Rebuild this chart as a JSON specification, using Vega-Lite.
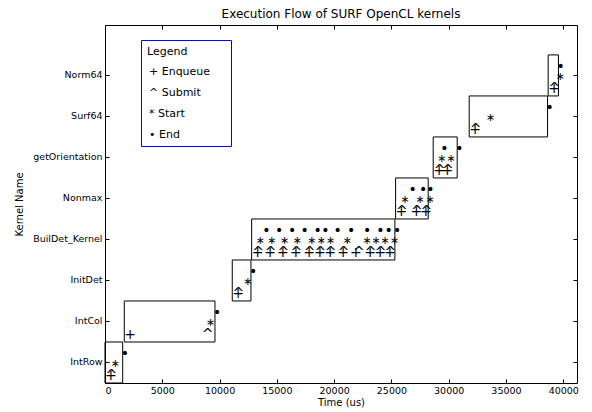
{
  "$schema": "https://vega.github.io/schema/vega-lite/v6.json",
  "width": 472,
  "height": 358,
  "autosize": "none",
  "padding": {"left": 105, "top": 25, "right": 15, "bottom": 29},
  "title": {"text": "Execution Flow of SURF OpenCL kernels", "fontSize": 12, "fontWeight": "normal", "color": "black", "offset": 4, "anchor": "middle"},
  "config": {
    "font": "DejaVu Sans",
    "view": {"stroke": "black", "strokeWidth": 1},
    "range": {"category": ["black", "black", "black", "black"]},
    "axis": {"domain": false, "grid": false, "tickColor": "black", "tickSize": -4, "labelColor": "black", "labelFontSize": 9.5, "titleFontSize": 10, "titleFontWeight": "normal", "titleColor": "black"}
  },
  "data": {"values": [
    {"kernel": "IntRow", "enqueue": 0, "submit": 50, "start": 500, "end": 1545},
    {"kernel": "IntCol", "enqueue": 1684, "submit": 8447, "start": 8813, "end": 9599},
    {"kernel": "InitDet", "enqueue": 11108, "submit": 11140, "start": 12077, "end": 12740},
    {"kernel": "BuilDet_Kernel", "enqueue": 12801, "submit": 12850, "start": 13150, "end": 13901},
    {"kernel": "BuilDet_Kernel", "enqueue": 13901, "submit": 13950, "start": 14171, "end": 15009},
    {"kernel": "BuilDet_Kernel", "enqueue": 15009, "submit": 15050, "start": 15271, "end": 16143},
    {"kernel": "BuilDet_Kernel", "enqueue": 16143, "submit": 16190, "start": 16379, "end": 17243},
    {"kernel": "BuilDet_Kernel", "enqueue": 17304, "submit": 17350, "start": 17662, "end": 18377},
    {"kernel": "BuilDet_Kernel", "enqueue": 18237, "submit": 18280, "start": 18473, "end": 19049},
    {"kernel": "BuilDet_Kernel", "enqueue": 19136, "submit": 19180, "start": 19284, "end": 20122},
    {"kernel": "BuilDet_Kernel", "enqueue": 20271, "submit": 20320, "start": 20742, "end": 21291},
    {"kernel": "BuilDet_Kernel", "enqueue": 21379, "submit": 21640, "start": 22487, "end": 22688},
    {"kernel": "BuilDet_Kernel", "enqueue": 22627, "submit": 22670, "start": 23273, "end": 23848},
    {"kernel": "BuilDet_Kernel", "enqueue": 23499, "submit": 23540, "start": 24057, "end": 24572},
    {"kernel": "BuilDet_Kernel", "enqueue": 24346, "submit": 24390, "start": 24869, "end": 25305},
    {"kernel": "Nonmax", "enqueue": 25366, "submit": 25410, "start": 25803, "end": 26667},
    {"kernel": "Nonmax", "enqueue": 26676, "submit": 26720, "start": 27112, "end": 27574},
    {"kernel": "Nonmax", "enqueue": 27487, "submit": 27530, "start": 27985, "end": 28212},
    {"kernel": "getOrientation", "enqueue": 28648, "submit": 28690, "start": 29005, "end": 29433},
    {"kernel": "getOrientation", "enqueue": 29372, "submit": 29410, "start": 29817, "end": 30742},
    {"kernel": "Surf64", "enqueue": 31790, "submit": 31830, "start": 33247, "end": 38630},
    {"kernel": "Norm64", "enqueue": 38683, "submit": 38720, "start": 39354, "end": 39580}
  ]},
  "layer": [
    {
      "mark": {"type": "rect", "fillOpacity": 0, "fill": "white", "stroke": "black", "strokeWidth": 1},
      "encoding": {
        "x": {"aggregate": "min", "field": "enqueue", "type": "quantitative",
              "scale": {"domain": [0, 41200], "nice": false, "zero": false},
              "axis": {"orient": "bottom", "title": "Time (us)", "values": [0, 5000, 10000, 15000, 20000, 25000, 30000, 35000, 40000], "format": "d", "labelPadding": 6, "titlePadding": 3}},
        "x2": {"aggregate": "max", "field": "end"},
        "y": {"field": "kernel", "type": "nominal",
              "scale": {"domain": ["Norm64", "Surf64", "getOrientation", "Nonmax", "BuilDet_Kernel", "InitDet", "IntCol", "IntRow"], "paddingInner": 0, "paddingOuter": 0.365, "align": 1},
              "axis": {"orient": "left", "title": "Kernel Name", "labelPadding": 7, "titlePadding": 8}}
      }
    },
    {
      "mark": {"type": "text", "text": "+", "align": "left", "baseline": "alphabetic", "dy": 18, "fontSize": 14},
      "encoding": {
        "x": {"field": "enqueue", "type": "quantitative", "axis": {"orient": "top", "labels": false, "title": null, "values": [0, 5000, 10000, 15000, 20000, 25000, 30000, 35000, 40000]}},
        "y": {"field": "kernel", "type": "nominal", "axis": {"orient": "right", "labels": false, "title": null}},
        "color": {"datum": "+ Enqueue", "type": "nominal",
                  "scale": {"domain": ["+ Enqueue", "^ Submit", "* Start", "• End"], "range": ["black", "black", "black", "black"]},
                  "legend": {"title": "Legend", "orient": "none", "legendX": 36, "legendY": 15, "direction": "vertical",
                             "titleFontSize": 11, "titleFontWeight": "normal", "titleColor": "black", "titlePadding": 9,
                             "labelFontSize": 11, "labelColor": "black", "labelOffset": -9,
                             "symbolSize": 0.01, "symbolOpacity": 0, "symbolStrokeWidth": 0,
                             "rowPadding": 9, "padding": 6, "strokeColor": "blue", "fillColor": "white",
                             "labelExpr": "datum.label == '+ Enqueue' ? datum.label + '\u00a0\u00a0\u00a0\u00a0\u200b' : datum.label"}}
      }
    },
    {
      "mark": {"type": "text", "text": "^", "align": "left", "baseline": "alphabetic", "dy": 18, "fontSize": 14},
      "encoding": {
        "x": {"field": "submit", "type": "quantitative", "axis": null},
        "y": {"field": "kernel", "type": "nominal", "axis": null},
        "color": {"datum": "^ Submit", "type": "nominal"}
      }
    },
    {
      "mark": {"type": "text", "text": "∗", "align": "left", "baseline": "alphabetic", "dy": 5, "dx": 0, "fontSize": 11},
      "encoding": {
        "x": {"field": "start", "type": "quantitative", "axis": null},
        "y": {"field": "kernel", "type": "nominal", "axis": null},
        "color": {"datum": "* Start", "type": "nominal"}
      }
    },
    {
      "mark": {"type": "text", "text": "•", "align": "left", "baseline": "alphabetic", "dy": -4, "dx": -2, "fontSize": 14},
      "encoding": {
        "x": {"field": "end", "type": "quantitative", "axis": null},
        "y": {"field": "kernel", "type": "nominal", "axis": null},
        "color": {"datum": "• End", "type": "nominal"}
      }
    }
  ],
  "resolve": {"axis": {"x": "independent", "y": "independent"}}
}
